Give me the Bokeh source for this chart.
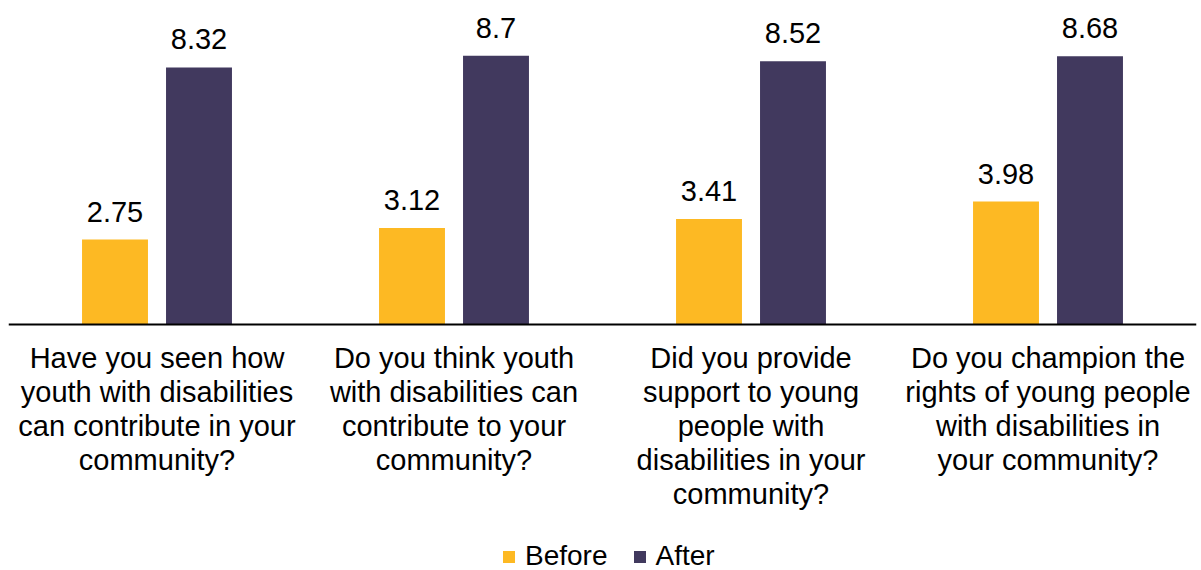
from bokeh.plotting import figure
from bokeh.models import ColumnDataSource, Span, FactorRange
from bokeh.transform import dodge
from bokeh.core.properties import value
from bokeh.embed import file_html
from bokeh.resources import INLINE

categories = [
    "Have you seen how youth with disabilities can contribute in your community?",
    "Do you think youth with disabilities can contribute to your community?",
    "Did you provide support to young people with disabilities in your community?",
    "Do you champion the rights of young people with disabilities in your community?",
]
category_lines = [
    ["Have you seen how", "youth with disabilities", "can contribute in your", "community?"],
    ["Do you think youth", "with disabilities can", "contribute to your", "community?"],
    ["Did you provide", "support to young", "people with", "disabilities in your", "community?"],
    ["Do you champion the", "rights of young people", "with disabilities in", "your community?"],
]
before = [2.75, 3.12, 3.41, 3.98]
after = [8.32, 8.7, 8.52, 8.68]
series_names = ["Before", "After"]

FONT = value("Liberation Sans")
FS = "29px"
C_BEFORE = "#FDB923"
C_AFTER = "#41395E"

src = ColumnDataSource(dict(
    cat=categories,
    before=before,
    after=after,
    before_txt=[str(v) for v in before],
    after_txt=[str(v) for v in after],
))

p = figure(
    width=1201, height=570,
    x_range=FactorRange(*categories),
    y_range=(-7.961, 10.485),
    x_axis_location=None, y_axis_location=None,
    toolbar_location=None, output_backend="svg",
    min_border_left=8, min_border_right=5, min_border_top=0, min_border_bottom=0,
)
p.xgrid.grid_line_color = None
p.ygrid.grid_line_color = None
p.outline_line_color = None

off = 0.1414
bw = 0.222
r1 = p.vbar(x=dodge("cat", -off, range=p.x_range), top="before", width=bw, source=src,
            fill_color=C_BEFORE, line_color=None, legend_label=series_names[0])
r2 = p.vbar(x=dodge("cat", off, range=p.x_range), top="after", width=bw, source=src,
            fill_color=C_AFTER, line_color=None, legend_label=series_names[1])

for col, o in (("before", -off), ("after", off)):
    p.text(x=dodge("cat", o, range=p.x_range), y=col, text=col + "_txt", source=src,
           text_align="center", text_baseline="alphabetic", y_offset=-28,
           text_font=FONT, text_font_size=FS, text_color="#000000")

# category labels below the baseline
lx, ly, lt, lo = [], [], [], []
for cat, lines in zip(categories, category_lines):
    for i, line in enumerate(lines):
        lx.append(cat)
        ly.append(0)
        lt.append(line)
        lo.append(34 + 34 * i)
lsrc = ColumnDataSource(dict(x=lx, y=ly, t=lt, o=lo))
p.text(x="x", y="y", text="t", y_offset="o", source=lsrc,
       text_align="center", text_baseline="alphabetic",
       text_font=FONT, text_font_size=FS, text_color="#000000")

p.add_layout(Span(location=0, dimension="width", line_color="#000000", line_width=2))

lg = p.legend[0]
lg.orientation = "horizontal"
lg.location = (493, -2)
lg.glyph_width = 15
lg.glyph_height = 15
lg.label_standoff = 9
lg.spacing = 24
lg.padding = 0
lg.margin = 0
lg.border_line_color = None
lg.background_fill_alpha = 0
lg.label_text_font = "Liberation Sans"
lg.label_text_font_size = "28px"
lg.label_text_color = "#000000"

open("out.html", "w").write(file_html(p, INLINE))
